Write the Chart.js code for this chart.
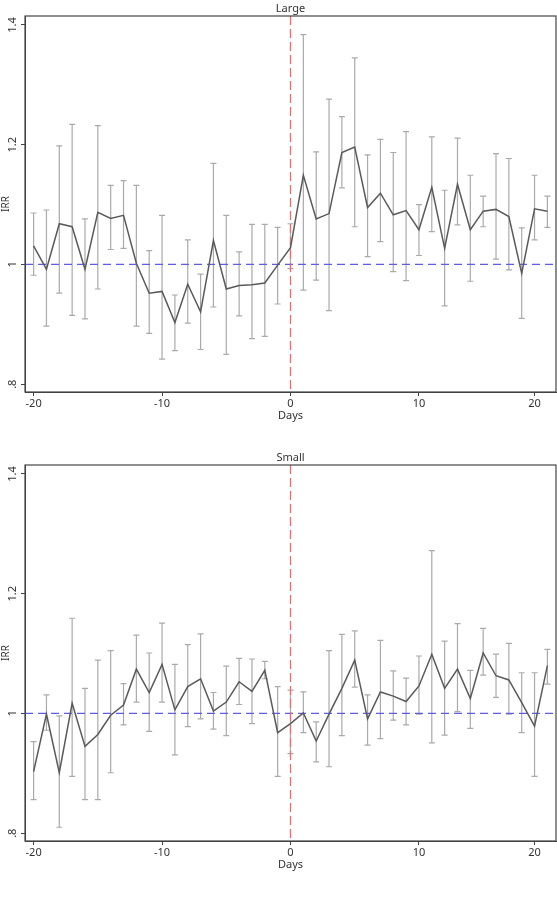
<!DOCTYPE html>
<html>
<head>
<meta charset="utf-8">
<script src="https://cdn.jsdelivr.net/npm/chart.js@4/dist/chart.umd.min.js"></script>
<style>
  body { margin: 0; background: #fff; }
  .panel { position: absolute; left: 0; width: 557px; height: 450px; }
</style>
</head>
<body>
<div class="panel" style="top:0"><canvas id="largeChart" width="557" height="450"></canvas></div>
<div class="panel" style="top:449px"><canvas id="smallChart" width="557" height="450"></canvas></div>
<script>
const days = [];
for (let d = -20; d <= 20; d++) days.push(d);

const xTickValues = [-20, -10, 0, 10, 19];
const xTickLabels = ['-20', '-10', '0', '10', '20'];
const yTickValues = [0.8, 1.0, 1.2, 1.4];
const yTickLabels = ['.8', '1', '1.2', '1.4'];

const largeIrr = [1.031, 0.992, 1.068, 1.063, 0.992, 1.087, 1.077, 1.082, 1.002, 0.952, 0.955,
  0.903, 0.967, 0.921, 1.040, 0.959, 0.965, 0.966, 0.969, 0.999, 1.028,
  1.149, 1.076, 1.085, 1.187, 1.196, 1.095, 1.119, 1.083, 1.090, 1.058,
  1.129, 1.027, 1.134, 1.058, 1.089, 1.092, 1.080, 0.985, 1.093, 1.089];
const largeUpper = [1.086, 1.091, 1.198, 1.234, 1.076, 1.232, 1.132, 1.140, 1.132, 1.023, 1.082,
  0.949, 1.041, 0.984, 1.169, 1.082, 1.021, 1.067, 1.067, 1.062, 1.068,
  1.384, 1.188, 1.276, 1.247, 1.345, 1.183, 1.209, 1.187, 1.222, 1.100,
  1.213, 1.124, 1.211, 1.149, 1.114, 1.185, 1.177, 1.061, 1.149, 1.114];
const largeLower = [0.982, 0.897, 0.952, 0.915, 0.909, 0.959, 1.025, 1.027, 0.897, 0.885, 0.842,
  0.856, 0.902, 0.858, 0.929, 0.850, 0.914, 0.876, 0.880, 0.934, 0.993,
  0.957, 0.974, 0.923, 1.128, 1.063, 1.013, 1.038, 0.988, 0.973, 1.015,
  1.055, 0.931, 1.066, 0.972, 1.063, 1.009, 0.991, 0.910, 1.041, 1.062];

const smallIrr = [0.903, 0.999, 0.901, 1.017, 0.945, 0.965, 0.997, 1.014, 1.074, 1.035, 1.082,
  1.006, 1.045, 1.058, 1.004, 1.019, 1.053, 1.037, 1.072, 0.968, 0.983,
  1.001, 0.954, 0.999, 1.042, 1.089, 0.991, 1.036, 1.029, 1.020, 1.046,
  1.099, 1.042, 1.074, 1.025, 1.101, 1.063, 1.056, 1.018, 0.979, 1.080];
const smallUpper = [0.953, 1.031, 0.996, 1.159, 1.042, 1.089, 1.105, 1.050, 1.131, 1.101, 1.151,
  1.082, 1.115, 1.133, 1.035, 1.079, 1.092, 1.091, 1.087, 1.045, 1.039,
  1.036, 0.986, 1.105, 1.132, 1.138, 1.031, 1.122, 1.071, 1.059, 1.096,
  1.272, 1.121, 1.150, 1.072, 1.142, 1.099, 1.117, 1.068, 1.068, 1.107];
const smallLower = [0.856, 0.972, 0.810, 0.895, 0.856, 0.856, 0.901, 0.981, 1.019, 0.970, 1.019,
  0.931, 0.978, 0.991, 0.974, 0.963, 1.015, 0.983, 1.058, 0.895, 0.933,
  0.968, 0.919, 0.911, 0.963, 1.044, 0.947, 0.958, 0.989, 0.981, 0.999,
  0.951, 0.964, 1.003, 0.975, 1.064, 1.027, 0.999, 0.968, 0.895, 1.049];

const FONT = '"Noto Sans", "Liberation Sans", sans-serif';
const TEXT = '#333';

// error bars, reference lines and all the text around the frame
const panelDecor = {
    id: 'panelDecor',
    beforeDatasetsDraw(chart, args, opts) {
        const { ctx, chartArea: a, scales: { x, y } } = chart;
        ctx.save();
        ctx.strokeStyle = '#aaa';
        ctx.lineWidth = 1.2;
        opts.lower.forEach((lo, i) => {
            const px = x.getPixelForValue(days[i]);
            const top = y.getPixelForValue(opts.upper[i]);
            const bot = y.getPixelForValue(lo);
            ctx.beginPath();
            ctx.moveTo(px, top); ctx.lineTo(px, bot);
            ctx.moveTo(px - 3, top); ctx.lineTo(px + 3, top);
            ctx.moveTo(px - 3, bot); ctx.lineTo(px + 3, bot);
            ctx.stroke();
        });
        ctx.lineWidth = 1.3;
        ctx.strokeStyle = '#5c5ce6';
        ctx.setLineDash([8, 5]);
        const y1 = y.getPixelForValue(1);
        ctx.beginPath(); ctx.moveTo(a.left, y1); ctx.lineTo(a.right, y1); ctx.stroke();
        ctx.strokeStyle = '#f26b6b';
        ctx.setLineDash([9, 4]);
        const x0 = x.getPixelForValue(0);
        ctx.beginPath(); ctx.moveTo(x0, a.top); ctx.lineTo(x0, a.bottom); ctx.stroke();
        ctx.restore();
    },
    afterDraw(chart, args, opts) {
        const { ctx, chartArea: a, scales: { y } } = chart;
        ctx.save();
        ctx.strokeStyle = '#444';
        ctx.lineWidth = 1.2;
        ctx.strokeRect(a.left, a.top, a.right - a.left, a.bottom - a.top);
        ctx.fillStyle = TEXT;
        ctx.font = '11px ' + FONT;
        ctx.textAlign = 'center';
        ctx.textBaseline = 'middle';
        ctx.fillText(opts.title, (a.left + a.right) / 2, a.top - 7);
        ctx.fillText('Days', x0Pixel(chart), a.bottom + 24);
        yTickValues.forEach((v, i) => {
            ctx.save();
            ctx.translate(13, y.getPixelForValue(v));
            ctx.rotate(-Math.PI / 2);
            ctx.fillText(yTickLabels[i], 0, 0);
            ctx.restore();
        });
        ctx.translate(6, (a.top + a.bottom) / 2);
        ctx.rotate(-Math.PI / 2);
        ctx.font = '10px ' + FONT;
        ctx.fillText('IRR', 0, 0);
        ctx.restore();
    }
};

function x0Pixel(chart) {
    return chart.scales.x.getPixelForValue(0);
}

function makePanel(id, title, irr, lower, upper) {
    new Chart(document.getElementById(id), {
        type: 'line',
        data: {
            datasets: [{
                data: days.map((d, i) => ({ x: d, y: irr[i] })),
                borderColor: '#5a5a5a',
                borderWidth: 1.5,
                pointRadius: 0,
                tension: 0,
            }],
        },
        options: {
            responsive: false,
            animation: false,
            layout: { padding: { top: 16, right: 1, left: 0, bottom: 0 } },
            plugins: {
                legend: { display: false },
                tooltip: { enabled: false },
                panelDecor: { title, lower, upper },
            },
            scales: {
                x: {
                    type: 'linear',
                    min: -20.67,
                    max: 20.67,
                    afterBuildTicks: (scale) => { scale.ticks = xTickValues.map((v) => ({ value: v })); },
                    afterFit: (scale) => { scale.height = 58; },
                    ticks: {
                        callback: (value, index) => xTickLabels[index],
                        color: TEXT,
                        font: { family: FONT, size: 11 },
                        padding: 1,
                        maxRotation: 0,
                    },
                    grid: { drawOnChartArea: false, drawTicks: true, tickLength: 4, color: '#444' },
                    border: { display: true, color: '#444' },
                },
                y: {
                    min: 0.787,
                    max: 1.415,
                    afterBuildTicks: (scale) => { scale.ticks = yTickValues.map((v) => ({ value: v })); },
                    afterFit: (scale) => { scale.width = 25; },
                    ticks: { display: false },
                    grid: { drawOnChartArea: false, drawTicks: true, tickLength: 4, color: '#444' },
                    border: { display: true, color: '#444' },
                },
            },
        },
        plugins: [panelDecor],
    });
}

makePanel('largeChart', 'Large', largeIrr, largeLower, largeUpper);
makePanel('smallChart', 'Small', smallIrr, smallLower, smallUpper);
</script>
</body>
</html>
